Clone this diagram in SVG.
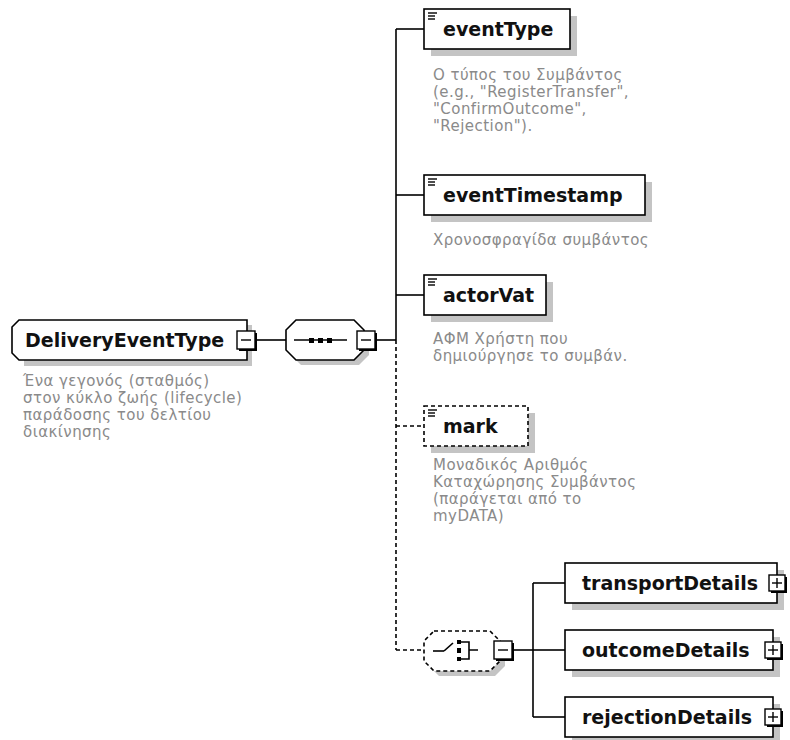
<svg xmlns="http://www.w3.org/2000/svg" width="790" height="740" viewBox="0 0 790 740">
<style>
.name{font-family:"DejaVu Sans","Liberation Sans",sans-serif;font-weight:bold;font-size:19px;fill:#111}
.desc{font-family:"DejaVu Sans","Liberation Sans",sans-serif;font-size:15px;letter-spacing:0.45px;fill:#8a8a8a}
.box{fill:#fff;stroke:#000;stroke-width:1.6}
.dbox{fill:#fff;stroke:#000;stroke-width:1.6;stroke-dasharray:4 3}
.shadow{fill:#c4c4c4}
.ln{stroke:#000;stroke-width:1.6;fill:none}
.dln{stroke:#000;stroke-width:1.6;fill:none;stroke-dasharray:4 3}
.ico{stroke:#000;stroke-width:1.4}
.xb{fill:#fff;stroke:#000;stroke-width:1.4}
</style>
<defs>
<g id="eicon"><line class="ico" x1="0" y1="0" x2="9" y2="0"/><line class="ico" x1="0" y1="3" x2="7" y2="3"/><line class="ico" x1="0" y1="6" x2="7" y2="6"/></g>
<g id="minus"><rect x="2" y="2" width="18" height="18" fill="#000"/><rect class="xb" x="0" y="0" width="18" height="18"/><line class="ico" x1="4" y1="9" x2="14" y2="9"/></g>
<g id="plus"><rect x="2" y="2" width="16" height="16" fill="#000"/><rect class="xb" x="0" y="0" width="16" height="16"/><line class="ico" x1="3" y1="8" x2="13" y2="8"/><line class="ico" x1="8" y1="3" x2="8" y2="13"/></g>
</defs>

<g id="connectors">
<line class="ln" x1="256" y1="340" x2="286" y2="340"/>
<line class="ln" x1="376" y1="340" x2="396" y2="340"/>
<line class="ln" x1="396" y1="29" x2="396" y2="340"/>
<line class="dln" x1="396" y1="340" x2="396" y2="650"/>
<line class="ln" x1="396" y1="29" x2="424" y2="29"/>
<line class="ln" x1="396" y1="195" x2="424" y2="195"/>
<line class="ln" x1="396" y1="295" x2="424" y2="295"/>
<line class="dln" x1="396" y1="426" x2="424" y2="426"/>
<line class="dln" x1="396" y1="650" x2="424" y2="650"/>
<line class="ln" x1="514" y1="650" x2="533" y2="650"/>
<line class="ln" x1="533" y1="583" x2="533" y2="717"/>
<line class="ln" x1="533" y1="583" x2="565" y2="583"/>
<line class="ln" x1="533" y1="650" x2="565" y2="650"/>
<line class="ln" x1="533" y1="717" x2="565" y2="717"/>
</g>

<g id="DeliveryEventType">
<path class="shadow" d="M24,325 H252 V366 H24 Z"/>
<path class="box" d="M19,320 H247 V360 H19 L12,353 V327 Z"/>
<text class="name" x="25" y="347">DeliveryEventType</text>
<use href="#minus" x="237" y="331"/>
<text class="desc" x="23" y="386">Ένα γεγονός (σταθμός)</text>
<text class="desc" x="23" y="403">στον κύκλο ζωής (lifecycle)</text>
<text class="desc" x="23" y="420">παράδοσης του δελτίου</text>
<text class="desc" x="23" y="437">διακίνησης</text>
</g>

<g id="sequence">
<path class="shadow" d="M301,325 H359 L369,335 V355 L359,365 H301 L291,355 V335 Z"/>
<path class="box" d="M296,320 H354 L364,330 V350 L354,360 H296 L286,350 V330 Z"/>
<line class="ln" x1="294" y1="340" x2="347" y2="340"/>
<rect x="309" y="338" width="5" height="5" fill="#000"/>
<rect x="318" y="338" width="5" height="5" fill="#000"/>
<rect x="327" y="338" width="5" height="5" fill="#000"/>
<use href="#minus" x="357" y="331"/>
</g>

<g id="eventType">
<rect class="shadow" x="431" y="16" width="146" height="40"/>
<rect class="box" x="424" y="9" width="146" height="40"/>
<use href="#eicon" x="428" y="13"/>
<text class="name" x="443" y="36">eventType</text>
<text class="desc" x="433" y="80">Ο τύπος του Συμβάντος</text>
<text class="desc" x="433" y="97">(e.g., "RegisterTransfer",</text>
<text class="desc" x="433" y="114">"ConfirmOutcome",</text>
<text class="desc" x="433" y="131">"Rejection").</text>
</g>

<g id="eventTimestamp">
<rect class="shadow" x="431" y="182" width="221" height="40"/>
<rect class="box" x="424" y="175" width="221" height="40"/>
<use href="#eicon" x="428" y="179"/>
<text class="name" x="443" y="202">eventTimestamp</text>
<text class="desc" x="433" y="245">Χρονοσφραγίδα συμβάντος</text>
</g>

<g id="actorVat">
<rect class="shadow" x="431" y="282" width="122" height="40"/>
<rect class="box" x="424" y="275" width="122" height="40"/>
<use href="#eicon" x="428" y="279"/>
<text class="name" x="443" y="302">actorVat</text>
<text class="desc" x="433" y="344">ΑΦΜ Χρήστη που</text>
<text class="desc" x="433" y="361">δημιούργησε το συμβάν.</text>
</g>

<g id="mark">
<rect class="shadow" x="431" y="413" width="104" height="40"/>
<rect class="dbox" x="424" y="406" width="104" height="40"/>
<use href="#eicon" x="428" y="410"/>
<text class="name" x="443" y="433">mark</text>
<text class="desc" x="433" y="470">Μοναδικός Αριθμός</text>
<text class="desc" x="433" y="487">Καταχώρησης Συμβάντος</text>
<text class="desc" x="433" y="504">(παράγεται από το</text>
<text class="desc" x="433" y="521">myDATA)</text>
</g>

<g id="choice">
<path class="shadow" d="M439,636 H495 L505,646 V666 L495,676 H439 L429,666 V646 Z"/>
<path class="dbox" d="M434,631 H490 L500,641 V661 L490,671 H434 L424,661 V641 Z"/>
<line class="ln" x1="433" y1="651" x2="444" y2="651"/>
<line class="ln" x1="444" y1="651" x2="453" y2="643"/>
<rect x="457" y="640" width="4" height="4" fill="#000"/>
<rect x="457" y="648" width="4" height="5" fill="#000"/>
<rect x="457" y="657" width="4" height="4" fill="#000"/>
<path class="ln" d="M461,642 H469 V659 H461 M469,650 H478"/>
<use href="#minus" x="494" y="641"/>
</g>

<g id="transportDetails">
<rect class="shadow" x="572" y="570" width="212" height="40"/>
<rect class="box" x="565" y="563" width="212" height="40"/>
<text class="name" x="582" y="590">transportDetails</text>
<use href="#plus" x="769" y="575"/>
</g>

<g id="outcomeDetails">
<rect class="shadow" x="572" y="637" width="208" height="40"/>
<rect class="box" x="565" y="630" width="208" height="40"/>
<text class="name" x="582" y="657">outcomeDetails</text>
<use href="#plus" x="765" y="642"/>
</g>

<g id="rejectionDetails">
<rect class="shadow" x="572" y="704" width="208" height="40"/>
<rect class="box" x="565" y="697" width="208" height="40"/>
<text class="name" x="582" y="724">rejectionDetails</text>
<use href="#plus" x="765" y="709"/>
</g>
</svg>
